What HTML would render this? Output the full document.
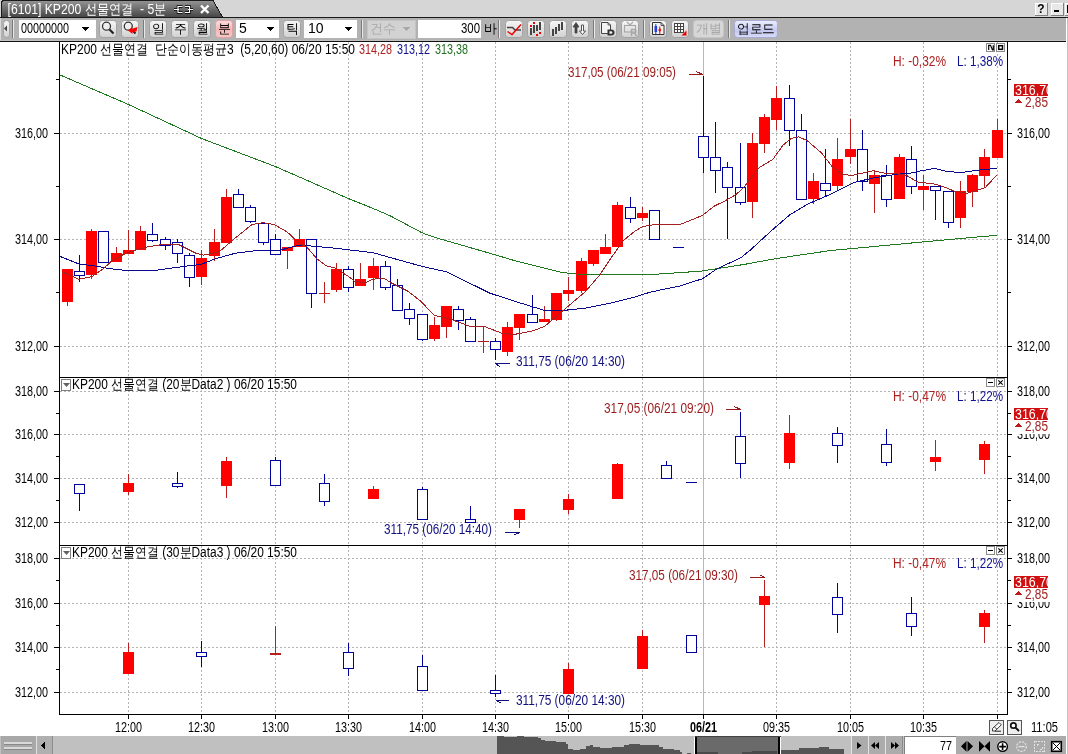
<!DOCTYPE html>
<html><head><meta charset="utf-8"><style>
html,body{margin:0;padding:0;width:1068px;height:754px;overflow:hidden;background:#fff;}
svg{display:block;font-family:"Liberation Sans",sans-serif;will-change:transform;}
</style></head><body>
<svg width="1068" height="754" viewBox="0 0 1068 754" shape-rendering="crispEdges" font-family="Liberation Sans, sans-serif">
<rect x="0" y="0" width="1068" height="754" fill="#fff"/>
<rect x="0" y="0" width="1068" height="17" fill="#d6d6d6"/>
<defs><linearGradient id="tab" x1="0" y1="0" x2="0" y2="1"><stop offset="0" stop-color="#959595"/><stop offset="0.5" stop-color="#6e6e6e"/><stop offset="1" stop-color="#474747"/></linearGradient><linearGradient id="btn" x1="0" y1="0" x2="0" y2="1"><stop offset="0" stop-color="#f6f6f6"/><stop offset="0.5" stop-color="#e4e4e4"/><stop offset="1" stop-color="#d0d0d0"/></linearGradient><linearGradient id="pink" x1="0" y1="0" x2="0" y2="1"><stop offset="0" stop-color="#ffdede"/><stop offset="0.5" stop-color="#f8b8b8"/><stop offset="1" stop-color="#f4c8c8"/></linearGradient><linearGradient id="blu" x1="0" y1="0" x2="0" y2="1"><stop offset="0" stop-color="#eef0ff"/><stop offset="0.6" stop-color="#c4c8f0"/><stop offset="1" stop-color="#d8dcf8"/></linearGradient></defs>
<path d="M1.5,17 L1.5,3 Q1.5,0.5 4,0.5 L213,0.5 L222.5,17 Z" fill="url(#tab)" stroke="#1a1a1a" stroke-width="1"/>
<text x="7.5" y="14" font-size="14" fill="#fff" text-anchor="start" font-weight="normal" textLength="159" lengthAdjust="spacingAndGlyphs" >[6101] KP200 선물연결 &#160;- 5분</text>
<g fill="none" shape-rendering="auto"><path d="M174,9.5 L179,9.5 M182.5,6.5 L178,6.5 L178,12.5 L182.5,12.5 M193,9.5 L188,9.5 M185,6.5 L189.5,6.5 L189.5,12.5 L185,12.5" stroke="#000" stroke-width="2.6"/><path d="M174,9.5 L179,9.5 M182.5,6.5 L178,6.5 L178,12.5 L182.5,12.5 M193,9.5 L188,9.5 M185,6.5 L189.5,6.5 L189.5,12.5 L185,12.5" stroke="#fff" stroke-width="1.2"/></g>
<g stroke="#fff" stroke-width="2.4" shape-rendering="auto"><path d="M201,5.5 L208.5,13 M208.5,5.5 L201,13"/></g>
<rect x="1035" y="3" width="12" height="12" fill="#e8e8e8" stroke="#808080"/>
<path d="M1035,15 L1035,3 L1047,3" fill="none" stroke="#fff"/>
<rect x="1051" y="3" width="12" height="12" fill="#e8e8e8" stroke="#808080"/>
<path d="M1051,15 L1051,3 L1063,3" fill="none" stroke="#fff"/>
<rect x="1065" y="3" width="12" height="12" fill="#e8e8e8" stroke="#808080"/>
<path d="M1065,15 L1065,3 L1077,3" fill="none" stroke="#fff"/>
<text x="1041" y="13" font-size="12" fill="#000" text-anchor="middle" font-weight="bold" >?</text>
<rect x="1054" y="10" width="5" height="2" fill="#000"/>
<rect x="1067" y="5" width="1" height="8" fill="#000"/>
<rect x="0" y="17" width="1068" height="1" fill="#1a1a1a"/>
<rect x="0" y="18" width="1066" height="23" fill="#b2b2b2"/>
<rect x="0" y="41" width="1066" height="1" fill="#111"/>
<rect x="0" y="18" width="1" height="23" fill="#d8d8d8"/><rect x="0" y="40" width="1066" height="1" fill="#c2c2c2"/>
<rect x="3.5" y="20.5" width="6" height="17" rx="3" fill="url(#btn)" stroke="#a2a2a2" shape-rendering="auto"/>
<path d="M4,28.5 L7,25.5 L7,31.5 Z" fill="#444" shape-rendering="auto"/>
<rect x="12" y="20" width="1" height="18" fill="#7a7a7a"/><rect x="13" y="20" width="1" height="18" fill="#e8e8e8"/>
<rect x="19" y="20" width="77" height="18" fill="#fff"/>
<text x="21" y="32.5" font-size="14" fill="#000" text-anchor="start" font-weight="normal" textLength="48" lengthAdjust="spacingAndGlyphs" >00000000</text>
<path d="M82,27 L89,27 L85.5,31 Z" fill="#000"/>
<rect x="99.5" y="20.5" width="17" height="17" rx="3" fill="url(#btn)" stroke="#a2a2a2" shape-rendering="auto"/>
<rect x="121.5" y="20.5" width="17" height="17" rx="3" fill="url(#btn)" stroke="#a2a2a2" shape-rendering="auto"/>
<g shape-rendering="auto"><circle cx="106.5" cy="26.2" r="4" fill="#eee" stroke="#333" stroke-width="1.3"/><path d="M109.5,29.5 L113.5,33.5" stroke="#222" stroke-width="2.2"/></g>
<g shape-rendering="auto"><circle cx="128.3" cy="26.2" r="4" fill="#eee" stroke="#333" stroke-width="1.3"/><path d="M131,29 L135.5,33.5" stroke="#222" stroke-width="2"/><path d="M128,30.5 L132,27 L132,28.8 L137.5,27 L136.5,31.5 L132.5,32 L132.5,34 Z" fill="#f00"/></g>
<rect x="143" y="20" width="1" height="18" fill="#7a7a7a"/><rect x="144" y="20" width="1" height="18" fill="#e8e8e8"/>
<rect x="149.5" y="20.5" width="17" height="17" rx="3" fill="url(#btn)" stroke="#a0a0a0" shape-rendering="auto"/>
<text x="158.0" y="33" font-size="13" fill="#000" text-anchor="middle" font-weight="normal" >일</text>
<rect x="171.5" y="20.5" width="17" height="17" rx="3" fill="url(#btn)" stroke="#a0a0a0" shape-rendering="auto"/>
<text x="180.0" y="33" font-size="13" fill="#000" text-anchor="middle" font-weight="normal" >주</text>
<rect x="193.5" y="20.5" width="17" height="17" rx="3" fill="url(#btn)" stroke="#a0a0a0" shape-rendering="auto"/>
<text x="202.0" y="33" font-size="13" fill="#000" text-anchor="middle" font-weight="normal" >월</text>
<rect x="215.5" y="20.5" width="17" height="17" rx="3" fill="url(#pink)" stroke="#e0a0a0" shape-rendering="auto"/>
<text x="224.0" y="33" font-size="13" fill="#000" text-anchor="middle" font-weight="normal" >분</text>
<rect x="236" y="20" width="43" height="18" fill="#fff"/>
<text x="239" y="32.5" font-size="14" fill="#000" text-anchor="start" font-weight="normal" >5</text>
<path d="M267,27 L274,27 L270.5,31 Z" fill="#000"/>
<rect x="283.5" y="20.5" width="17" height="17" rx="3" fill="url(#btn)" stroke="#a2a2a2" shape-rendering="auto"/>
<text x="292" y="33" font-size="13" fill="#000" text-anchor="middle" font-weight="normal" >틱</text>
<rect x="304" y="20" width="53" height="18" fill="#fff"/>
<text x="308" y="32.5" font-size="14" fill="#000" text-anchor="start" font-weight="normal" >10</text>
<path d="M345,27 L352,27 L348.5,31 Z" fill="#000"/>
<rect x="361" y="20" width="1" height="18" fill="#7a7a7a"/><rect x="362" y="20" width="1" height="18" fill="#e8e8e8"/>
<rect x="367" y="20" width="48" height="18" fill="#d2d2d2" stroke="#c4c4c4"/>
<text x="370" y="33" font-size="13" fill="#a8a8a8" text-anchor="start" font-weight="normal" >건수</text>
<path d="M403,27 L410,27 L406.5,31 Z" fill="#a8a8a8"/>
<rect x="418" y="20" width="63" height="18" fill="#fff"/>
<text x="480" y="32.5" font-size="14" fill="#000" text-anchor="end" font-weight="normal" textLength="19" lengthAdjust="spacingAndGlyphs" >300</text>
<text x="484" y="33" font-size="13" fill="#000" text-anchor="start" font-weight="normal" >바</text>
<rect x="498" y="20" width="1" height="18" fill="#7a7a7a"/><rect x="499" y="20" width="1" height="18" fill="#e8e8e8"/>
<rect x="505.5" y="20.5" width="17" height="17" rx="3" fill="url(#btn)" stroke="#a2a2a2" shape-rendering="auto"/>
<rect x="527.5" y="20.5" width="17" height="17" rx="3" fill="url(#btn)" stroke="#a2a2a2" shape-rendering="auto"/>
<rect x="549.5" y="20.5" width="17" height="17" rx="3" fill="url(#btn)" stroke="#a2a2a2" shape-rendering="auto"/>
<rect x="571.5" y="20.5" width="17" height="17" rx="3" fill="url(#btn)" stroke="#a2a2a2" shape-rendering="auto"/>
<rect x="599.5" y="20.5" width="17" height="17" rx="3" fill="url(#btn)" stroke="#a2a2a2" shape-rendering="auto"/>
<rect x="621.5" y="20.5" width="17" height="17" rx="3" fill="url(#btn)" stroke="#a2a2a2" shape-rendering="auto"/>
<rect x="649.5" y="20.5" width="17" height="17" rx="3" fill="url(#btn)" stroke="#a2a2a2" shape-rendering="auto"/>
<rect x="671.5" y="20.5" width="17" height="17" rx="3" fill="url(#btn)" stroke="#a2a2a2" shape-rendering="auto"/>
<g shape-rendering="auto" fill="none"><path d="M507,27.5 L512.5,27.5 L515,30 L521,30" stroke="#444" stroke-width="1.6"/><path d="M507.5,31.5 L512,34.5 L521,24.5" stroke="#e00" stroke-width="1.4"/></g>
<g fill="#444"><rect x="530" y="28" width="2" height="7"/><rect x="533" y="25" width="2" height="8"/><rect x="536" y="25" width="2" height="6"/><rect x="539" y="22" width="2" height="8"/></g><g fill="#e00"><rect x="530" y="24.5" width="2" height="2"/><rect x="533" y="22" width="2" height="2"/><rect x="536" y="33.5" width="2" height="2"/><rect x="539" y="31.5" width="2" height="2"/></g>
<g fill="#444"><rect x="552" y="28.5" width="2" height="7"/><rect x="555" y="26.5" width="2" height="7"/><rect x="558" y="24" width="2" height="7"/><rect x="561" y="22" width="2" height="8"/></g>
<g shape-rendering="auto"><path d="M575,33 L575,27 L573,27 L576,22.5 L579,27 L577,27 L577,33 Z" fill="#444" stroke="#444" stroke-width="0.8"/><path d="M581.5,25 L583.5,25 L583.5,31 L585.5,31 L582.5,34.5 L579.5,31 L581.5,31 Z" fill="#fff" stroke="#444" stroke-width="0.9"/></g>
<rect x="593" y="20" width="1" height="18" fill="#7a7a7a"/><rect x="594" y="20" width="1" height="18" fill="#e8e8e8"/>
<g shape-rendering="auto"><path d="M601.5,22.5 L608,22.5 L610.5,25 L610.5,33.5 L601.5,33.5 Z" fill="#f4f4f4" stroke="#444" stroke-width="1"/><path d="M608,22.5 L608,25 L610.5,25" fill="none" stroke="#444" stroke-width="0.8"/><path d="M607.5,29.5 L611,29.5 Q614.5,29.5 614.5,32.5 Q614.5,35.5 611,35.5 L607.5,35.5 Z" fill="#333"/><path d="M609.5,31.3 L610.8,31.3 Q612.3,31.3 612.3,32.5 Q612.3,33.7 610.8,33.7 L609.5,33.7 Z" fill="#f4f4f4"/></g>
<g shape-rendering="auto" fill="none" stroke="#a6a6a6" stroke-width="1.1"><path d="M627,22 L630,25 L633,22"/><rect x="624.5" y="25.5" width="11" height="6.5"/><path d="M631.5,36 L631.5,29.5 L634.5,29.5 Q636,29.5 636,31.2 Q636,33 634.5,33 L632,33 M634.5,33 L636.5,36" stroke-width="1.4"/></g>
<rect x="643" y="20" width="1" height="18" fill="#7a7a7a"/><rect x="644" y="20" width="1" height="18" fill="#e8e8e8"/>
<g shape-rendering="auto"><path d="M652.5,22.5 L661,22.5 L664,25.5 L664,34.5 L652.5,34.5 Z" fill="#f4f4f4" stroke="#333" stroke-width="1"/><path d="M661,22.5 L661,25.5 L664,25.5" fill="none" stroke="#333" stroke-width="0.8"/><path d="M655.8,24 L655.8,34" stroke="#2040e0" stroke-width="1"/><rect x="654.5" y="26" width="2.6" height="6" fill="#2040e0"/><path d="M659.8,26.5 L659.8,34" stroke="#e00" stroke-width="1"/><path d="M659.8,28.5 L661,30 L659.8,31.5 L658.6,30 Z" fill="#e00" stroke="#e00" stroke-width="0.6"/></g>
<g fill="#444"><rect x="674" y="23" width="10" height="10"/></g><g fill="#fff"><rect x="675" y="24" width="2" height="2"/><rect x="678" y="24" width="2" height="2"/><rect x="681" y="24" width="2" height="2"/><rect x="675" y="27" width="2" height="2"/><rect x="678" y="27" width="2" height="2"/><rect x="681" y="27" width="2" height="2"/><rect x="675" y="30" width="2" height="2"/><rect x="678" y="30" width="2" height="2"/><rect x="681" y="30" width="2" height="2"/></g><path d="M681.5,35.5 L686.5,35.5 L686.5,30.5 Z" fill="#e00" shape-rendering="auto"/>
<rect x="693.5" y="20.5" width="30" height="17" rx="3" fill="#d6d6d6" stroke="#c6c6c6" shape-rendering="auto"/>
<text x="708.5" y="33" font-size="13" fill="#a8a8a8" text-anchor="middle" font-weight="normal" >개별</text>
<rect x="728" y="20" width="1" height="18" fill="#7a7a7a"/><rect x="729" y="20" width="1" height="18" fill="#e8e8e8"/>
<rect x="734.5" y="20.5" width="43" height="17" rx="3" fill="url(#blu)" stroke="#a8acd0" shape-rendering="auto"/>
<text x="756" y="33" font-size="13" fill="#000" text-anchor="middle" font-weight="normal" textLength="38" lengthAdjust="spacingAndGlyphs" >업로드</text>
<line x1="128.5" y1="42" x2="128.5" y2="377" stroke="#b4b4b4" stroke-dasharray="2,2"/>
<line x1="201.5" y1="42" x2="201.5" y2="377" stroke="#b4b4b4" stroke-dasharray="2,2"/>
<line x1="275.5" y1="42" x2="275.5" y2="377" stroke="#b4b4b4" stroke-dasharray="2,2"/>
<line x1="348.5" y1="42" x2="348.5" y2="377" stroke="#b4b4b4" stroke-dasharray="2,2"/>
<line x1="422.5" y1="42" x2="422.5" y2="377" stroke="#b4b4b4" stroke-dasharray="2,2"/>
<line x1="495.5" y1="42" x2="495.5" y2="377" stroke="#b4b4b4" stroke-dasharray="2,2"/>
<line x1="568.5" y1="42" x2="568.5" y2="377" stroke="#b4b4b4" stroke-dasharray="2,2"/>
<line x1="642.5" y1="42" x2="642.5" y2="377" stroke="#b4b4b4" stroke-dasharray="2,2"/>
<line x1="776.5" y1="42" x2="776.5" y2="377" stroke="#b4b4b4" stroke-dasharray="2,2"/>
<line x1="850.5" y1="42" x2="850.5" y2="377" stroke="#b4b4b4" stroke-dasharray="2,2"/>
<line x1="923.5" y1="42" x2="923.5" y2="377" stroke="#b4b4b4" stroke-dasharray="2,2"/>
<line x1="997.5" y1="42" x2="997.5" y2="377" stroke="#b4b4b4" stroke-dasharray="2,2"/>
<line x1="703.5" y1="42" x2="703.5" y2="377" stroke="#b8b8b8"/>
<line x1="60" y1="133.5" x2="1007" y2="133.5" stroke="#b4b4b4" stroke-dasharray="2,2"/>
<line x1="60" y1="239.5" x2="1007" y2="239.5" stroke="#b4b4b4" stroke-dasharray="2,2"/>
<line x1="60" y1="346.5" x2="1007" y2="346.5" stroke="#b4b4b4" stroke-dasharray="2,2"/>
<line x1="128.5" y1="378" x2="128.5" y2="545" stroke="#b4b4b4" stroke-dasharray="2,2"/>
<line x1="201.5" y1="378" x2="201.5" y2="545" stroke="#b4b4b4" stroke-dasharray="2,2"/>
<line x1="275.5" y1="378" x2="275.5" y2="545" stroke="#b4b4b4" stroke-dasharray="2,2"/>
<line x1="348.5" y1="378" x2="348.5" y2="545" stroke="#b4b4b4" stroke-dasharray="2,2"/>
<line x1="422.5" y1="378" x2="422.5" y2="545" stroke="#b4b4b4" stroke-dasharray="2,2"/>
<line x1="495.5" y1="378" x2="495.5" y2="545" stroke="#b4b4b4" stroke-dasharray="2,2"/>
<line x1="568.5" y1="378" x2="568.5" y2="545" stroke="#b4b4b4" stroke-dasharray="2,2"/>
<line x1="642.5" y1="378" x2="642.5" y2="545" stroke="#b4b4b4" stroke-dasharray="2,2"/>
<line x1="776.5" y1="378" x2="776.5" y2="545" stroke="#b4b4b4" stroke-dasharray="2,2"/>
<line x1="850.5" y1="378" x2="850.5" y2="545" stroke="#b4b4b4" stroke-dasharray="2,2"/>
<line x1="923.5" y1="378" x2="923.5" y2="545" stroke="#b4b4b4" stroke-dasharray="2,2"/>
<line x1="997.5" y1="378" x2="997.5" y2="545" stroke="#b4b4b4" stroke-dasharray="2,2"/>
<line x1="703.5" y1="378" x2="703.5" y2="545" stroke="#b8b8b8"/>
<line x1="60" y1="391.5" x2="1007" y2="391.5" stroke="#b4b4b4" stroke-dasharray="2,2"/>
<line x1="60" y1="434.5" x2="1007" y2="434.5" stroke="#b4b4b4" stroke-dasharray="2,2"/>
<line x1="60" y1="478.5" x2="1007" y2="478.5" stroke="#b4b4b4" stroke-dasharray="2,2"/>
<line x1="60" y1="522.5" x2="1007" y2="522.5" stroke="#b4b4b4" stroke-dasharray="2,2"/>
<line x1="128.5" y1="546" x2="128.5" y2="714" stroke="#b4b4b4" stroke-dasharray="2,2"/>
<line x1="201.5" y1="546" x2="201.5" y2="714" stroke="#b4b4b4" stroke-dasharray="2,2"/>
<line x1="275.5" y1="546" x2="275.5" y2="714" stroke="#b4b4b4" stroke-dasharray="2,2"/>
<line x1="348.5" y1="546" x2="348.5" y2="714" stroke="#b4b4b4" stroke-dasharray="2,2"/>
<line x1="422.5" y1="546" x2="422.5" y2="714" stroke="#b4b4b4" stroke-dasharray="2,2"/>
<line x1="495.5" y1="546" x2="495.5" y2="714" stroke="#b4b4b4" stroke-dasharray="2,2"/>
<line x1="568.5" y1="546" x2="568.5" y2="714" stroke="#b4b4b4" stroke-dasharray="2,2"/>
<line x1="642.5" y1="546" x2="642.5" y2="714" stroke="#b4b4b4" stroke-dasharray="2,2"/>
<line x1="776.5" y1="546" x2="776.5" y2="714" stroke="#b4b4b4" stroke-dasharray="2,2"/>
<line x1="850.5" y1="546" x2="850.5" y2="714" stroke="#b4b4b4" stroke-dasharray="2,2"/>
<line x1="923.5" y1="546" x2="923.5" y2="714" stroke="#b4b4b4" stroke-dasharray="2,2"/>
<line x1="997.5" y1="546" x2="997.5" y2="714" stroke="#b4b4b4" stroke-dasharray="2,2"/>
<line x1="703.5" y1="546" x2="703.5" y2="714" stroke="#b8b8b8"/>
<line x1="60" y1="558.5" x2="1007" y2="558.5" stroke="#b4b4b4" stroke-dasharray="2,2"/>
<line x1="60" y1="603.5" x2="1007" y2="603.5" stroke="#b4b4b4" stroke-dasharray="2,2"/>
<line x1="60" y1="647.5" x2="1007" y2="647.5" stroke="#b4b4b4" stroke-dasharray="2,2"/>
<line x1="60" y1="692.5" x2="1007" y2="692.5" stroke="#b4b4b4" stroke-dasharray="2,2"/>
<rect x="67" y="302" width="1" height="4" fill="#b81e1e"/>
<rect x="62" y="269" width="11" height="33" fill="#ff0000"/>
<rect x="79" y="255" width="1" height="16" fill="#00009c"/>
<rect x="79" y="275" width="1" height="7" fill="#00009c"/>
<rect x="74.5" y="271.5" width="10" height="4" fill="#fff" stroke="#00009c" stroke-width="1"/>
<rect x="91" y="229" width="1" height="2" fill="#b81e1e"/>
<rect x="91" y="275" width="1" height="4" fill="#b81e1e"/>
<rect x="86" y="231" width="11" height="44" fill="#ff0000"/>
<rect x="103" y="262" width="1" height="1" fill="#00009c"/>
<rect x="98.5" y="231.5" width="10" height="31" fill="#fff" stroke="#00009c" stroke-width="1"/>
<rect x="116" y="247" width="1" height="6" fill="#b81e1e"/>
<rect x="111" y="253" width="11" height="9" fill="#ff0000"/>
<rect x="128" y="230" width="1" height="20" fill="#b81e1e"/>
<rect x="123" y="250" width="11" height="4" fill="#ff0000"/>
<rect x="140" y="226" width="1" height="5" fill="#b81e1e"/>
<rect x="135" y="231" width="11" height="19" fill="#ff0000"/>
<rect x="152" y="223" width="1" height="11" fill="#00009c"/>
<rect x="152" y="240" width="1" height="2" fill="#00009c"/>
<rect x="147.5" y="234.5" width="10" height="6" fill="#fff" stroke="#00009c" stroke-width="1"/>
<rect x="165" y="237" width="1" height="2" fill="#00009c"/>
<rect x="165" y="245" width="1" height="5" fill="#00009c"/>
<rect x="160.5" y="239.5" width="10" height="6" fill="#fff" stroke="#00009c" stroke-width="1"/>
<rect x="177" y="239" width="1" height="3" fill="#00009c"/>
<rect x="177" y="253" width="1" height="10" fill="#00009c"/>
<rect x="172.5" y="242.5" width="10" height="11" fill="#fff" stroke="#00009c" stroke-width="1"/>
<rect x="189" y="253" width="1" height="2" fill="#00009c"/>
<rect x="189" y="277" width="1" height="10" fill="#00009c"/>
<rect x="184.5" y="255.5" width="10" height="22" fill="#fff" stroke="#00009c" stroke-width="1"/>
<rect x="201" y="250" width="1" height="8" fill="#b81e1e"/>
<rect x="201" y="277" width="1" height="8" fill="#b81e1e"/>
<rect x="196" y="258" width="11" height="19" fill="#ff0000"/>
<rect x="214" y="229" width="1" height="13" fill="#b81e1e"/>
<rect x="214" y="256" width="1" height="5" fill="#b81e1e"/>
<rect x="209" y="242" width="11" height="14" fill="#ff0000"/>
<rect x="226" y="189" width="1" height="8" fill="#b81e1e"/>
<rect x="221" y="197" width="11" height="46" fill="#ff0000"/>
<rect x="238" y="189" width="1" height="5" fill="#00009c"/>
<rect x="233.5" y="194.5" width="10" height="13" fill="#fff" stroke="#00009c" stroke-width="1"/>
<rect x="250" y="205" width="1" height="2" fill="#00009c"/>
<rect x="250" y="221" width="1" height="2" fill="#00009c"/>
<rect x="245.5" y="207.5" width="10" height="14" fill="#fff" stroke="#00009c" stroke-width="1"/>
<rect x="263" y="242" width="1" height="3" fill="#00009c"/>
<rect x="258.5" y="223.5" width="10" height="19" fill="#fff" stroke="#00009c" stroke-width="1"/>
<rect x="275" y="234" width="1" height="5" fill="#00009c"/>
<rect x="275" y="254" width="1" height="1" fill="#00009c"/>
<rect x="270.5" y="239.5" width="10" height="15" fill="#fff" stroke="#00009c" stroke-width="1"/>
<rect x="287" y="251" width="1" height="18" fill="#b81e1e"/>
<rect x="282" y="247" width="11" height="4" fill="#ff0000"/>
<rect x="299" y="229" width="1" height="10" fill="#b81e1e"/>
<rect x="294" y="239" width="11" height="8" fill="#ff0000"/>
<rect x="311" y="293" width="1" height="15" fill="#00009c"/>
<rect x="306.5" y="239.5" width="10" height="54" fill="#fff" stroke="#00009c" stroke-width="1"/>
<rect x="324" y="282" width="1" height="11" fill="#b81e1e"/>
<rect x="324" y="294" width="1" height="9" fill="#b81e1e"/>
<rect x="319" y="293" width="11" height="1" fill="#b81e1e"/>
<rect x="336" y="263" width="1" height="6" fill="#b81e1e"/>
<rect x="336" y="290" width="1" height="2" fill="#b81e1e"/>
<rect x="331" y="269" width="11" height="21" fill="#ff0000"/>
<rect x="348" y="266" width="1" height="3" fill="#00009c"/>
<rect x="348" y="287" width="1" height="5" fill="#00009c"/>
<rect x="343.5" y="269.5" width="10" height="18" fill="#fff" stroke="#00009c" stroke-width="1"/>
<rect x="360" y="263" width="1" height="16" fill="#b81e1e"/>
<rect x="355" y="279" width="11" height="7" fill="#ff0000"/>
<rect x="373" y="258" width="1" height="8" fill="#b81e1e"/>
<rect x="373" y="278" width="1" height="12" fill="#b81e1e"/>
<rect x="368" y="266" width="11" height="12" fill="#ff0000"/>
<rect x="385" y="261" width="1" height="5" fill="#00009c"/>
<rect x="385" y="287" width="1" height="3" fill="#00009c"/>
<rect x="380.5" y="266.5" width="10" height="21" fill="#fff" stroke="#00009c" stroke-width="1"/>
<rect x="397" y="279" width="1" height="6" fill="#00009c"/>
<rect x="397" y="310" width="1" height="1" fill="#00009c"/>
<rect x="392.5" y="285.5" width="10" height="25" fill="#fff" stroke="#00009c" stroke-width="1"/>
<rect x="409" y="303" width="1" height="6" fill="#00009c"/>
<rect x="409" y="318" width="1" height="7" fill="#00009c"/>
<rect x="404.5" y="309.5" width="10" height="9" fill="#fff" stroke="#00009c" stroke-width="1"/>
<rect x="422" y="339" width="1" height="2" fill="#00009c"/>
<rect x="417.5" y="314.5" width="10" height="25" fill="#fff" stroke="#00009c" stroke-width="1"/>
<rect x="434" y="317" width="1" height="8" fill="#b81e1e"/>
<rect x="434" y="339" width="1" height="2" fill="#b81e1e"/>
<rect x="429" y="325" width="11" height="14" fill="#ff0000"/>
<rect x="446" y="327" width="1" height="11" fill="#b81e1e"/>
<rect x="441" y="306" width="11" height="21" fill="#ff0000"/>
<rect x="458" y="306" width="1" height="3" fill="#00009c"/>
<rect x="458" y="320" width="1" height="10" fill="#00009c"/>
<rect x="453.5" y="309.5" width="10" height="11" fill="#fff" stroke="#00009c" stroke-width="1"/>
<rect x="470" y="317" width="1" height="2" fill="#00009c"/>
<rect x="465.5" y="319.5" width="10" height="22" fill="#fff" stroke="#00009c" stroke-width="1"/>
<rect x="483" y="327" width="1" height="14" fill="#b81e1e"/>
<rect x="483" y="342" width="1" height="11" fill="#b81e1e"/>
<rect x="478" y="341" width="11" height="1" fill="#b81e1e"/>
<rect x="495" y="338" width="1" height="3" fill="#00009c"/>
<rect x="495" y="349" width="1" height="11" fill="#00009c"/>
<rect x="490.5" y="341.5" width="10" height="8" fill="#fff" stroke="#00009c" stroke-width="1"/>
<rect x="507" y="322" width="1" height="5" fill="#b81e1e"/>
<rect x="507" y="352" width="1" height="4" fill="#b81e1e"/>
<rect x="502" y="327" width="11" height="25" fill="#ff0000"/>
<rect x="519" y="328" width="1" height="12" fill="#b81e1e"/>
<rect x="514" y="314" width="11" height="14" fill="#ff0000"/>
<rect x="532" y="295" width="1" height="19" fill="#00009c"/>
<rect x="527.5" y="314.5" width="10" height="8" fill="#fff" stroke="#00009c" stroke-width="1"/>
<rect x="544" y="306" width="1" height="13" fill="#b81e1e"/>
<rect x="539" y="319" width="11" height="3" fill="#ff0000"/>
<rect x="556" y="320" width="1" height="1" fill="#b81e1e"/>
<rect x="551" y="293" width="11" height="27" fill="#ff0000"/>
<rect x="568" y="277" width="1" height="13" fill="#b81e1e"/>
<rect x="568" y="294" width="1" height="7" fill="#b81e1e"/>
<rect x="563" y="290" width="11" height="4" fill="#ff0000"/>
<rect x="581" y="258" width="1" height="3" fill="#b81e1e"/>
<rect x="581" y="291" width="1" height="2" fill="#b81e1e"/>
<rect x="576" y="261" width="11" height="30" fill="#ff0000"/>
<rect x="593" y="264" width="1" height="2" fill="#b81e1e"/>
<rect x="588" y="250" width="11" height="14" fill="#ff0000"/>
<rect x="605" y="234" width="1" height="13" fill="#b81e1e"/>
<rect x="600" y="247" width="11" height="7" fill="#ff0000"/>
<rect x="617" y="202" width="1" height="3" fill="#b81e1e"/>
<rect x="612" y="205" width="11" height="42" fill="#ff0000"/>
<rect x="630" y="197" width="1" height="10" fill="#00009c"/>
<rect x="630" y="218" width="1" height="5" fill="#00009c"/>
<rect x="625.5" y="207.5" width="10" height="11" fill="#fff" stroke="#00009c" stroke-width="1"/>
<rect x="642" y="207" width="1" height="6" fill="#b81e1e"/>
<rect x="642" y="218" width="1" height="3" fill="#b81e1e"/>
<rect x="637" y="213" width="11" height="5" fill="#ff0000"/>
<rect x="649.5" y="210.5" width="10" height="29" fill="#fff" stroke="#00009c" stroke-width="1"/>
<rect x="673" y="247" width="11" height="1" fill="#00009c"/>
<rect x="703" y="76" width="1" height="60" fill="#00009c"/>
<rect x="703" y="157" width="1" height="16" fill="#00009c"/>
<rect x="698.5" y="136.5" width="10" height="21" fill="#fff" stroke="#00009c" stroke-width="1"/>
<rect x="715" y="122" width="1" height="35" fill="#00009c"/>
<rect x="715" y="170" width="1" height="23" fill="#00009c"/>
<rect x="710.5" y="157.5" width="10" height="13" fill="#fff" stroke="#00009c" stroke-width="1"/>
<rect x="727" y="162" width="1" height="5" fill="#00009c"/>
<rect x="727" y="187" width="1" height="52" fill="#00009c"/>
<rect x="722.5" y="167.5" width="10" height="20" fill="#fff" stroke="#00009c" stroke-width="1"/>
<rect x="740" y="143" width="1" height="44" fill="#00009c"/>
<rect x="740" y="202" width="1" height="3" fill="#00009c"/>
<rect x="735.5" y="187.5" width="10" height="15" fill="#fff" stroke="#00009c" stroke-width="1"/>
<rect x="752" y="133" width="1" height="10" fill="#b81e1e"/>
<rect x="752" y="202" width="1" height="16" fill="#b81e1e"/>
<rect x="747" y="143" width="11" height="59" fill="#ff0000"/>
<rect x="764" y="114" width="1" height="3" fill="#b81e1e"/>
<rect x="764" y="144" width="1" height="9" fill="#b81e1e"/>
<rect x="759" y="117" width="11" height="27" fill="#ff0000"/>
<rect x="776" y="86" width="1" height="12" fill="#b81e1e"/>
<rect x="776" y="120" width="1" height="10" fill="#b81e1e"/>
<rect x="771" y="98" width="11" height="22" fill="#ff0000"/>
<rect x="789" y="85" width="1" height="13" fill="#00009c"/>
<rect x="789" y="130" width="1" height="16" fill="#00009c"/>
<rect x="784.5" y="98.5" width="10" height="32" fill="#fff" stroke="#00009c" stroke-width="1"/>
<rect x="801" y="114" width="1" height="16" fill="#00009c"/>
<rect x="796.5" y="130.5" width="10" height="69" fill="#fff" stroke="#00009c" stroke-width="1"/>
<rect x="813" y="173" width="1" height="8" fill="#b81e1e"/>
<rect x="813" y="199" width="1" height="5" fill="#b81e1e"/>
<rect x="808" y="181" width="11" height="18" fill="#ff0000"/>
<rect x="825" y="149" width="1" height="34" fill="#00009c"/>
<rect x="825" y="190" width="1" height="6" fill="#00009c"/>
<rect x="820.5" y="183.5" width="10" height="7" fill="#fff" stroke="#00009c" stroke-width="1"/>
<rect x="837" y="138" width="1" height="21" fill="#b81e1e"/>
<rect x="837" y="186" width="1" height="4" fill="#b81e1e"/>
<rect x="832" y="159" width="11" height="27" fill="#ff0000"/>
<rect x="850" y="119" width="1" height="30" fill="#b81e1e"/>
<rect x="850" y="157" width="1" height="7" fill="#b81e1e"/>
<rect x="845" y="149" width="11" height="8" fill="#ff0000"/>
<rect x="862" y="130" width="1" height="19" fill="#00009c"/>
<rect x="862" y="181" width="1" height="10" fill="#00009c"/>
<rect x="857.5" y="149.5" width="10" height="32" fill="#fff" stroke="#00009c" stroke-width="1"/>
<rect x="874" y="170" width="1" height="5" fill="#b81e1e"/>
<rect x="874" y="184" width="1" height="29" fill="#b81e1e"/>
<rect x="869" y="175" width="11" height="9" fill="#ff0000"/>
<rect x="886" y="165" width="1" height="10" fill="#00009c"/>
<rect x="886" y="199" width="1" height="8" fill="#00009c"/>
<rect x="881.5" y="175.5" width="10" height="24" fill="#fff" stroke="#00009c" stroke-width="1"/>
<rect x="899" y="154" width="1" height="3" fill="#b81e1e"/>
<rect x="894" y="157" width="11" height="42" fill="#ff0000"/>
<rect x="911" y="146" width="1" height="13" fill="#00009c"/>
<rect x="911" y="186" width="1" height="8" fill="#00009c"/>
<rect x="906.5" y="159.5" width="10" height="27" fill="#fff" stroke="#00009c" stroke-width="1"/>
<rect x="923" y="175" width="1" height="11" fill="#b81e1e"/>
<rect x="923" y="190" width="1" height="20" fill="#b81e1e"/>
<rect x="918" y="186" width="11" height="4" fill="#ff0000"/>
<rect x="935" y="190" width="1" height="30" fill="#00009c"/>
<rect x="930.5" y="186.5" width="10" height="4" fill="#fff" stroke="#00009c" stroke-width="1"/>
<rect x="948" y="222" width="1" height="6" fill="#00009c"/>
<rect x="943.5" y="191.5" width="10" height="31" fill="#fff" stroke="#00009c" stroke-width="1"/>
<rect x="960" y="181" width="1" height="10" fill="#b81e1e"/>
<rect x="960" y="218" width="1" height="10" fill="#b81e1e"/>
<rect x="955" y="191" width="11" height="27" fill="#ff0000"/>
<rect x="972" y="174" width="1" height="1" fill="#b81e1e"/>
<rect x="972" y="192" width="1" height="15" fill="#b81e1e"/>
<rect x="967" y="175" width="11" height="17" fill="#ff0000"/>
<rect x="984" y="149" width="1" height="8" fill="#b81e1e"/>
<rect x="984" y="176" width="1" height="11" fill="#b81e1e"/>
<rect x="979" y="157" width="11" height="19" fill="#ff0000"/>
<rect x="997" y="119" width="1" height="11" fill="#b81e1e"/>
<rect x="992" y="130" width="11" height="28" fill="#ff0000"/>
<rect x="79" y="493" width="1" height="18" fill="#00009c"/>
<rect x="74.5" y="484.5" width="10" height="9" fill="#fff" stroke="#00009c" stroke-width="1"/>
<rect x="128" y="474" width="1" height="9" fill="#b81e1e"/>
<rect x="128" y="492" width="1" height="3" fill="#b81e1e"/>
<rect x="123" y="483" width="11" height="9" fill="#ff0000"/>
<rect x="177" y="472" width="1" height="11" fill="#00009c"/>
<rect x="177" y="486" width="1" height="2" fill="#00009c"/>
<rect x="172.5" y="483.5" width="10" height="3" fill="#fff" stroke="#00009c" stroke-width="1"/>
<rect x="226" y="457" width="1" height="4" fill="#b81e1e"/>
<rect x="226" y="486" width="1" height="12" fill="#b81e1e"/>
<rect x="221" y="461" width="11" height="25" fill="#ff0000"/>
<rect x="275" y="457" width="1" height="3" fill="#00009c"/>
<rect x="270.5" y="460.5" width="10" height="25" fill="#fff" stroke="#00009c" stroke-width="1"/>
<rect x="324" y="474" width="1" height="9" fill="#00009c"/>
<rect x="324" y="501" width="1" height="5" fill="#00009c"/>
<rect x="319.5" y="483.5" width="10" height="18" fill="#fff" stroke="#00009c" stroke-width="1"/>
<rect x="373" y="486" width="1" height="3" fill="#b81e1e"/>
<rect x="368" y="489" width="11" height="10" fill="#ff0000"/>
<rect x="422" y="487" width="1" height="2" fill="#00009c"/>
<rect x="417.5" y="489.5" width="10" height="30" fill="#fff" stroke="#00009c" stroke-width="1"/>
<rect x="470" y="506" width="1" height="13" fill="#00009c"/>
<rect x="465.5" y="519.5" width="10" height="3" fill="#fff" stroke="#00009c" stroke-width="1"/>
<rect x="519" y="520" width="1" height="8" fill="#b81e1e"/>
<rect x="514" y="509" width="11" height="11" fill="#ff0000"/>
<rect x="568" y="494" width="1" height="5" fill="#b81e1e"/>
<rect x="568" y="510" width="1" height="4" fill="#b81e1e"/>
<rect x="563" y="499" width="11" height="11" fill="#ff0000"/>
<rect x="617" y="463" width="1" height="1" fill="#b81e1e"/>
<rect x="612" y="464" width="11" height="35" fill="#ff0000"/>
<rect x="666" y="461" width="1" height="4" fill="#00009c"/>
<rect x="661.5" y="465.5" width="10" height="13" fill="#fff" stroke="#00009c" stroke-width="1"/>
<rect x="686" y="482" width="11" height="1" fill="#00009c"/>
<rect x="740" y="412" width="1" height="24" fill="#00009c"/>
<rect x="740" y="463" width="1" height="15" fill="#00009c"/>
<rect x="735.5" y="436.5" width="10" height="27" fill="#fff" stroke="#00009c" stroke-width="1"/>
<rect x="789" y="415" width="1" height="18" fill="#b81e1e"/>
<rect x="789" y="463" width="1" height="6" fill="#b81e1e"/>
<rect x="784" y="433" width="11" height="30" fill="#ff0000"/>
<rect x="837" y="427" width="1" height="6" fill="#00009c"/>
<rect x="837" y="445" width="1" height="18" fill="#00009c"/>
<rect x="832.5" y="433.5" width="10" height="12" fill="#fff" stroke="#00009c" stroke-width="1"/>
<rect x="886" y="429" width="1" height="15" fill="#00009c"/>
<rect x="886" y="462" width="1" height="4" fill="#00009c"/>
<rect x="881.5" y="444.5" width="10" height="18" fill="#fff" stroke="#00009c" stroke-width="1"/>
<rect x="935" y="440" width="1" height="17" fill="#b81e1e"/>
<rect x="935" y="462" width="1" height="9" fill="#b81e1e"/>
<rect x="930" y="457" width="11" height="5" fill="#ff0000"/>
<rect x="984" y="441" width="1" height="3" fill="#b81e1e"/>
<rect x="984" y="460" width="1" height="14" fill="#b81e1e"/>
<rect x="979" y="444" width="11" height="16" fill="#ff0000"/>
<rect x="128" y="643" width="1" height="9" fill="#b81e1e"/>
<rect x="123" y="652" width="11" height="22" fill="#ff0000"/>
<rect x="201" y="641" width="1" height="11" fill="#00009c"/>
<rect x="201" y="656" width="1" height="11" fill="#00009c"/>
<rect x="196.5" y="652.5" width="10" height="4" fill="#fff" stroke="#00009c" stroke-width="1"/>
<rect x="275" y="626" width="1" height="27" fill="#b81e1e"/>
<rect x="270" y="653" width="11" height="2" fill="#b81e1e"/>
<rect x="348" y="643" width="1" height="9" fill="#00009c"/>
<rect x="348" y="668" width="1" height="8" fill="#00009c"/>
<rect x="343.5" y="652.5" width="10" height="16" fill="#fff" stroke="#00009c" stroke-width="1"/>
<rect x="422" y="655" width="1" height="11" fill="#00009c"/>
<rect x="417.5" y="666.5" width="10" height="24" fill="#fff" stroke="#00009c" stroke-width="1"/>
<rect x="495" y="675" width="1" height="15" fill="#00009c"/>
<rect x="495" y="693" width="1" height="4" fill="#00009c"/>
<rect x="490.5" y="690.5" width="10" height="3" fill="#fff" stroke="#00009c" stroke-width="1"/>
<rect x="568" y="663" width="1" height="6" fill="#b81e1e"/>
<rect x="563" y="669" width="11" height="25" fill="#ff0000"/>
<rect x="642" y="630" width="1" height="6" fill="#b81e1e"/>
<rect x="637" y="636" width="11" height="33" fill="#ff0000"/>
<rect x="686.5" y="635.5" width="10" height="17" fill="#fff" stroke="#00009c" stroke-width="1"/>
<rect x="764" y="580" width="1" height="16" fill="#b81e1e"/>
<rect x="764" y="605" width="1" height="42" fill="#b81e1e"/>
<rect x="759" y="596" width="11" height="9" fill="#ff0000"/>
<rect x="837" y="583" width="1" height="14" fill="#00009c"/>
<rect x="837" y="614" width="1" height="19" fill="#00009c"/>
<rect x="832.5" y="597.5" width="10" height="17" fill="#fff" stroke="#00009c" stroke-width="1"/>
<rect x="911" y="597" width="1" height="16" fill="#00009c"/>
<rect x="911" y="626" width="1" height="10" fill="#00009c"/>
<rect x="906.5" y="613.5" width="10" height="13" fill="#fff" stroke="#00009c" stroke-width="1"/>
<rect x="984" y="610" width="1" height="3" fill="#b81e1e"/>
<rect x="984" y="627" width="1" height="16" fill="#b81e1e"/>
<rect x="979" y="613" width="11" height="14" fill="#ff0000"/>
<polyline points="59.0,74.5 128.5,104.5 201.8,138.6 275.0,166.4 300.0,177.3 348.7,198.7 373.0,208.4 391.0,216.2 422.0,232.8 437.0,238.1 490.0,253.3 513.9,260.4 537.8,266.4 561.6,272.4 576.0,274.0 650.0,274.6 700.6,271.2 744.4,264.4 776.5,258.5 830.0,250.6 942.7,240.1 996.6,235.3" fill="none" stroke="#207820" stroke-width="1"/>
<polyline points="59.0,256.0 80.0,264.4 92.0,265.4 110.0,268.7 125.0,270.4 155.0,270.4 185.0,266.3 201.0,264.4 215.0,258.9 235.0,253.3 260.0,250.2 280.0,250.2 300.0,245.0 330.0,247.7 348.7,249.8 373.0,252.7 422.0,266.4 446.0,271.7 482.0,289.2 490.0,293.2 513.9,301.0 545.0,310.6 561.6,310.6 585.5,308.2 609.4,303.4 633.3,297.5 650.0,292.2 661.8,289.7 678.7,286.3 702.3,278.8 717.4,268.6 741.0,257.7 751.2,249.3 771.4,230.7 790.0,214.7 808.5,203.7 832.4,193.5 853.7,182.5 874.9,177.6 896.1,174.4 911.1,173.0 922.3,170.6 934.4,168.4 946.5,171.5 961.3,172.5 978.0,170.2 996.6,168.4" fill="none" stroke="#0a0a90" stroke-width="1"/>
<polyline points="62.0,271.9 79.0,279.3 92.0,276.5 103.0,269.0 111.0,261.7 122.0,255.2 129.0,252.4 137.0,249.6 148.0,246.8 166.0,244.0 177.5,244.0 185.0,247.7 196.0,253.3 203.5,255.2 219.5,251.5 232.5,240.3 252.0,224.5 263.0,222.7 274.2,224.5 287.2,232.0 300.2,244.0 306.7,246.8 317.0,258.9 326.2,265.7 335.5,268.2 348.5,276.5 354.3,281.0 365.4,282.9 372.8,279.2 384.0,278.3 391.4,282.9 408.1,291.3 421.1,301.5 434.1,315.4 441.5,317.2 452.7,320.0 469.4,326.1 483.3,326.1 502.0,333.3 513.9,334.5 533.0,330.9 545.0,326.1 561.6,311.8 585.5,291.5 599.9,274.8 611.8,256.9 623.7,240.1 635.7,230.6 642.5,226.7 652.0,225.0 680.0,224.5 702.3,215.5 714.0,206.3 725.9,200.4 736.0,194.5 744.4,186.9 747.8,181.8 759.4,167.5 772.7,159.5 783.3,144.9 791.2,138.3 798.5,136.9 807.0,140.5 821.8,153.2 832.4,167.0 843.0,174.4 851.5,175.5 872.8,170.8 885.5,173.4 894.0,173.4 906.7,175.5 917.3,181.9 934.3,184.0 942.7,186.4 953.9,191.0 966.9,193.3 978.0,190.1 985.5,187.3 996.6,175.3" fill="none" stroke="#a52020" stroke-width="1"/>
<rect x="59" y="42" width="1" height="673" fill="#000"/>
<rect x="1007" y="42" width="1" height="673" fill="#000"/>
<rect x="59" y="377" width="949" height="1" fill="#000"/>
<rect x="59" y="545" width="949" height="1" fill="#000"/>
<rect x="59" y="714" width="949" height="1" fill="#000"/>
<rect x="54" y="133" width="5" height="1" fill="#000"/>
<rect x="1008" y="133" width="4" height="1" fill="#000"/>
<text x="15" y="137.5" font-size="14" fill="#000" text-anchor="start" font-weight="normal" textLength="33" lengthAdjust="spacingAndGlyphs" >316,00</text>
<text x="1017" y="137.5" font-size="14" fill="#000" text-anchor="start" font-weight="normal" textLength="33" lengthAdjust="spacingAndGlyphs" >316,00</text>
<rect x="54" y="239" width="5" height="1" fill="#000"/>
<rect x="1008" y="239" width="4" height="1" fill="#000"/>
<text x="15" y="243.5" font-size="14" fill="#000" text-anchor="start" font-weight="normal" textLength="33" lengthAdjust="spacingAndGlyphs" >314,00</text>
<text x="1017" y="243.5" font-size="14" fill="#000" text-anchor="start" font-weight="normal" textLength="33" lengthAdjust="spacingAndGlyphs" >314,00</text>
<rect x="54" y="346" width="5" height="1" fill="#000"/>
<rect x="1008" y="346" width="4" height="1" fill="#000"/>
<text x="15" y="350.5" font-size="14" fill="#000" text-anchor="start" font-weight="normal" textLength="33" lengthAdjust="spacingAndGlyphs" >312,00</text>
<text x="1017" y="350.5" font-size="14" fill="#000" text-anchor="start" font-weight="normal" textLength="33" lengthAdjust="spacingAndGlyphs" >312,00</text>
<rect x="56" y="79" width="3" height="1" fill="#000"/>
<rect x="1008" y="79" width="3" height="1" fill="#000"/>
<rect x="56" y="186" width="3" height="1" fill="#000"/>
<rect x="1008" y="186" width="3" height="1" fill="#000"/>
<rect x="56" y="292" width="3" height="1" fill="#000"/>
<rect x="1008" y="292" width="3" height="1" fill="#000"/>
<rect x="54" y="391" width="5" height="1" fill="#000"/>
<rect x="1008" y="391" width="4" height="1" fill="#000"/>
<text x="15" y="395.5" font-size="14" fill="#000" text-anchor="start" font-weight="normal" textLength="33" lengthAdjust="spacingAndGlyphs" >318,00</text>
<text x="1017" y="395.5" font-size="14" fill="#000" text-anchor="start" font-weight="normal" textLength="33" lengthAdjust="spacingAndGlyphs" >318,00</text>
<rect x="54" y="434" width="5" height="1" fill="#000"/>
<rect x="1008" y="434" width="4" height="1" fill="#000"/>
<text x="15" y="438.5" font-size="14" fill="#000" text-anchor="start" font-weight="normal" textLength="33" lengthAdjust="spacingAndGlyphs" >316,00</text>
<text x="1017" y="438.5" font-size="14" fill="#000" text-anchor="start" font-weight="normal" textLength="33" lengthAdjust="spacingAndGlyphs" >316,00</text>
<rect x="54" y="478" width="5" height="1" fill="#000"/>
<rect x="1008" y="478" width="4" height="1" fill="#000"/>
<text x="15" y="482.5" font-size="14" fill="#000" text-anchor="start" font-weight="normal" textLength="33" lengthAdjust="spacingAndGlyphs" >314,00</text>
<text x="1017" y="482.5" font-size="14" fill="#000" text-anchor="start" font-weight="normal" textLength="33" lengthAdjust="spacingAndGlyphs" >314,00</text>
<rect x="54" y="522" width="5" height="1" fill="#000"/>
<rect x="1008" y="522" width="4" height="1" fill="#000"/>
<text x="15" y="526.5" font-size="14" fill="#000" text-anchor="start" font-weight="normal" textLength="33" lengthAdjust="spacingAndGlyphs" >312,00</text>
<text x="1017" y="526.5" font-size="14" fill="#000" text-anchor="start" font-weight="normal" textLength="33" lengthAdjust="spacingAndGlyphs" >312,00</text>
<rect x="56" y="413" width="3" height="1" fill="#000"/>
<rect x="1008" y="413" width="3" height="1" fill="#000"/>
<rect x="56" y="456" width="3" height="1" fill="#000"/>
<rect x="1008" y="456" width="3" height="1" fill="#000"/>
<rect x="56" y="500" width="3" height="1" fill="#000"/>
<rect x="1008" y="500" width="3" height="1" fill="#000"/>
<rect x="54" y="558" width="5" height="1" fill="#000"/>
<rect x="1008" y="558" width="4" height="1" fill="#000"/>
<text x="15" y="562.5" font-size="14" fill="#000" text-anchor="start" font-weight="normal" textLength="33" lengthAdjust="spacingAndGlyphs" >318,00</text>
<text x="1017" y="562.5" font-size="14" fill="#000" text-anchor="start" font-weight="normal" textLength="33" lengthAdjust="spacingAndGlyphs" >318,00</text>
<rect x="54" y="603" width="5" height="1" fill="#000"/>
<rect x="1008" y="603" width="4" height="1" fill="#000"/>
<text x="15" y="607.5" font-size="14" fill="#000" text-anchor="start" font-weight="normal" textLength="33" lengthAdjust="spacingAndGlyphs" >316,00</text>
<text x="1017" y="607.5" font-size="14" fill="#000" text-anchor="start" font-weight="normal" textLength="33" lengthAdjust="spacingAndGlyphs" >316,00</text>
<rect x="54" y="647" width="5" height="1" fill="#000"/>
<rect x="1008" y="647" width="4" height="1" fill="#000"/>
<text x="15" y="651.5" font-size="14" fill="#000" text-anchor="start" font-weight="normal" textLength="33" lengthAdjust="spacingAndGlyphs" >314,00</text>
<text x="1017" y="651.5" font-size="14" fill="#000" text-anchor="start" font-weight="normal" textLength="33" lengthAdjust="spacingAndGlyphs" >314,00</text>
<rect x="54" y="692" width="5" height="1" fill="#000"/>
<rect x="1008" y="692" width="4" height="1" fill="#000"/>
<text x="15" y="696.5" font-size="14" fill="#000" text-anchor="start" font-weight="normal" textLength="33" lengthAdjust="spacingAndGlyphs" >312,00</text>
<text x="1017" y="696.5" font-size="14" fill="#000" text-anchor="start" font-weight="normal" textLength="33" lengthAdjust="spacingAndGlyphs" >312,00</text>
<rect x="56" y="580" width="3" height="1" fill="#000"/>
<rect x="1008" y="580" width="3" height="1" fill="#000"/>
<rect x="56" y="625" width="3" height="1" fill="#000"/>
<rect x="1008" y="625" width="3" height="1" fill="#000"/>
<rect x="56" y="669" width="3" height="1" fill="#000"/>
<rect x="1008" y="669" width="3" height="1" fill="#000"/>
<rect x="128" y="715" width="1" height="4" fill="#000"/>
<text x="128.5" y="731.5" font-size="14" fill="#000" text-anchor="middle" font-weight="normal" textLength="27" lengthAdjust="spacingAndGlyphs" >12:00</text>
<rect x="201" y="715" width="1" height="4" fill="#000"/>
<text x="201.5" y="731.5" font-size="14" fill="#000" text-anchor="middle" font-weight="normal" textLength="27" lengthAdjust="spacingAndGlyphs" >12:30</text>
<rect x="275" y="715" width="1" height="4" fill="#000"/>
<text x="275.5" y="731.5" font-size="14" fill="#000" text-anchor="middle" font-weight="normal" textLength="27" lengthAdjust="spacingAndGlyphs" >13:00</text>
<rect x="348" y="715" width="1" height="4" fill="#000"/>
<text x="348.5" y="731.5" font-size="14" fill="#000" text-anchor="middle" font-weight="normal" textLength="27" lengthAdjust="spacingAndGlyphs" >13:30</text>
<rect x="422" y="715" width="1" height="4" fill="#000"/>
<text x="422.5" y="731.5" font-size="14" fill="#000" text-anchor="middle" font-weight="normal" textLength="27" lengthAdjust="spacingAndGlyphs" >14:00</text>
<rect x="495" y="715" width="1" height="4" fill="#000"/>
<text x="495.5" y="731.5" font-size="14" fill="#000" text-anchor="middle" font-weight="normal" textLength="27" lengthAdjust="spacingAndGlyphs" >14:30</text>
<rect x="568" y="715" width="1" height="4" fill="#000"/>
<text x="568.5" y="731.5" font-size="14" fill="#000" text-anchor="middle" font-weight="normal" textLength="27" lengthAdjust="spacingAndGlyphs" >15:00</text>
<rect x="642" y="715" width="1" height="4" fill="#000"/>
<text x="642.5" y="731.5" font-size="14" fill="#000" text-anchor="middle" font-weight="normal" textLength="27" lengthAdjust="spacingAndGlyphs" >15:30</text>
<rect x="703" y="715" width="1" height="4" fill="#000"/>
<text x="703.5" y="731.5" font-size="14" fill="#000" text-anchor="middle" font-weight="bold" textLength="27" lengthAdjust="spacingAndGlyphs" >06/21</text>
<rect x="776" y="715" width="1" height="4" fill="#000"/>
<text x="776.5" y="731.5" font-size="14" fill="#000" text-anchor="middle" font-weight="normal" textLength="27" lengthAdjust="spacingAndGlyphs" >09:35</text>
<rect x="850" y="715" width="1" height="4" fill="#000"/>
<text x="850.5" y="731.5" font-size="14" fill="#000" text-anchor="middle" font-weight="normal" textLength="27" lengthAdjust="spacingAndGlyphs" >10:05</text>
<rect x="923" y="715" width="1" height="4" fill="#000"/>
<text x="923.5" y="731.5" font-size="14" fill="#000" text-anchor="middle" font-weight="normal" textLength="27" lengthAdjust="spacingAndGlyphs" >10:35</text>
<rect x="997" y="715" width="1" height="4" fill="#000"/>
<text x="1031" y="731.5" font-size="14" fill="#000" text-anchor="start" font-weight="normal" textLength="27" lengthAdjust="spacingAndGlyphs" >11:05</text>
<text x="61" y="54" font-size="14" fill="#000" text-anchor="start" font-weight="normal" textLength="294" lengthAdjust="spacingAndGlyphs" >KP200 선물연결 &#160;단순이동평균3 &#160;(5,20,60) 06/20 15:50</text>
<text x="359" y="54" font-size="14" fill="#b02020" text-anchor="start" font-weight="normal" textLength="33" lengthAdjust="spacingAndGlyphs" >314,28</text>
<text x="397" y="54" font-size="14" fill="#101090" text-anchor="start" font-weight="normal" textLength="33" lengthAdjust="spacingAndGlyphs" >313,12</text>
<text x="435" y="54" font-size="14" fill="#207020" text-anchor="start" font-weight="normal" textLength="33" lengthAdjust="spacingAndGlyphs" >313,38</text>
<rect x="61.5" y="379.5" width="9" height="11" fill="#fff" stroke="#808080"/>
<path d="M63,383 L70,383 L66.5,387 Z" fill="#606060" shape-rendering="auto"/>
<text x="72" y="389" font-size="14" fill="#000" text-anchor="start" font-weight="normal" textLength="225" lengthAdjust="spacingAndGlyphs" >KP200 선물연결 (20분Data2 ) 06/20 15:50</text>
<rect x="61.5" y="547.5" width="9" height="11" fill="#fff" stroke="#808080"/>
<path d="M63,551 L70,551 L66.5,555 Z" fill="#606060" shape-rendering="auto"/>
<text x="72" y="557" font-size="14" fill="#000" text-anchor="start" font-weight="normal" textLength="225" lengthAdjust="spacingAndGlyphs" >KP200 선물연결 (30분Data3 ) 06/20 15:50</text>
<text x="893" y="65.5" font-size="14" fill="#b02020" text-anchor="start" font-weight="normal" textLength="53" lengthAdjust="spacingAndGlyphs" >H: -0,32%</text>
<text x="957" y="65.5" font-size="14" fill="#101090" text-anchor="start" font-weight="normal" textLength="46" lengthAdjust="spacingAndGlyphs" >L: 1,38%</text>
<rect x="986.5" y="43.5" width="8" height="8" fill="#fff" stroke="#8a8a8a"/><path d="M988.7,50 L988.7,45.3 L990.5,45.3 L992.5,50 L993.3,50 L993.3,45.3" stroke="#000" stroke-width="1.2" fill="none" shape-rendering="auto"/>
<rect x="996.5" y="43.5" width="8" height="8" fill="#fff" stroke="#8a8a8a"/><rect x="998.7" y="45.7" width="3.8" height="3.6" fill="none" stroke="#000" stroke-width="1.5" shape-rendering="auto"/>
<text x="893" y="400.5" font-size="14" fill="#b02020" text-anchor="start" font-weight="normal" textLength="53" lengthAdjust="spacingAndGlyphs" >H: -0,47%</text>
<text x="957" y="400.5" font-size="14" fill="#101090" text-anchor="start" font-weight="normal" textLength="46" lengthAdjust="spacingAndGlyphs" >L: 1,22%</text>
<rect x="986.5" y="378.5" width="8" height="8" fill="#fff" stroke="#8a8a8a"/><rect x="988" y="382" width="5" height="1" fill="#000"/>
<rect x="996.5" y="378.5" width="8" height="8" fill="#fff" stroke="#8a8a8a"/><path d="M998.3,380.3 L1002.7,384.7 M1002.7,380.3 L998.3,384.7" stroke="#000" stroke-width="1.1" shape-rendering="auto"/>
<text x="893" y="568" font-size="14" fill="#b02020" text-anchor="start" font-weight="normal" textLength="53" lengthAdjust="spacingAndGlyphs" >H: -0,47%</text>
<text x="957" y="568" font-size="14" fill="#101090" text-anchor="start" font-weight="normal" textLength="46" lengthAdjust="spacingAndGlyphs" >L: 1,22%</text>
<rect x="986.5" y="546.5" width="8" height="8" fill="#fff" stroke="#8a8a8a"/><rect x="988" y="550" width="5" height="1" fill="#000"/>
<rect x="996.5" y="546.5" width="8" height="8" fill="#fff" stroke="#8a8a8a"/><path d="M998.3,548.3 L1002.7,552.7 M1002.7,548.3 L998.3,552.7" stroke="#000" stroke-width="1.1" shape-rendering="auto"/>
<clipPath id="pb1"><rect x="1014" y="84" width="34" height="12"/></clipPath><clipPath id="pb2"><rect x="1014" y="408" width="34" height="12"/></clipPath><clipPath id="pb3"><rect x="1014" y="576" width="34" height="12"/></clipPath>
<rect x="1013" y="96" width="38" height="14" fill="#fff"/>
<rect x="1014" y="84" width="34" height="12" fill="#d01010"/>
<g clip-path="url(#pb1)"><text x="1015" y="94.5" font-size="14" fill="#fff" text-anchor="start" font-weight="normal" textLength="38" lengthAdjust="spacingAndGlyphs" >316,70</text></g>
<path d="M1014,103 L1022,103 L1018,99 Z" fill="#c01818"/>
<text x="1025" y="106.5" font-size="14" fill="#a02020" text-anchor="start" font-weight="normal" textLength="23" lengthAdjust="spacingAndGlyphs" >2,85</text>
<rect x="1013" y="420" width="38" height="14" fill="#fff"/>
<rect x="1014" y="408" width="34" height="12" fill="#d01010"/>
<g clip-path="url(#pb2)"><text x="1015" y="418.5" font-size="14" fill="#fff" text-anchor="start" font-weight="normal" textLength="38" lengthAdjust="spacingAndGlyphs" >316,70</text></g>
<path d="M1014,427 L1022,427 L1018,423 Z" fill="#c01818"/>
<text x="1025" y="430.5" font-size="14" fill="#a02020" text-anchor="start" font-weight="normal" textLength="23" lengthAdjust="spacingAndGlyphs" >2,85</text>
<rect x="1013" y="588" width="38" height="14" fill="#fff"/>
<rect x="1014" y="576" width="34" height="12" fill="#d01010"/>
<g clip-path="url(#pb3)"><text x="1015" y="586.5" font-size="14" fill="#fff" text-anchor="start" font-weight="normal" textLength="38" lengthAdjust="spacingAndGlyphs" >316,70</text></g>
<path d="M1014,595 L1022,595 L1018,591 Z" fill="#c01818"/>
<text x="1025" y="598.5" font-size="14" fill="#a02020" text-anchor="start" font-weight="normal" textLength="23" lengthAdjust="spacingAndGlyphs" >2,85</text>
<text x="568" y="76.5" font-size="14" fill="#9a1a1a" text-anchor="start" font-weight="normal" textLength="108" lengthAdjust="spacingAndGlyphs" >317,05 (06/21 09:05)</text>
<path d="M689,74.5 L703,74.5 M696,71.5 L703,74.5" stroke="#9a1a1a" fill="none"/>
<text x="516" y="366" font-size="14" fill="#101080" text-anchor="start" font-weight="normal" textLength="109" lengthAdjust="spacingAndGlyphs" >311,75 (06/20 14:30)</text>
<path d="M495,363.5 L510,363.5 M495,363.5 L500,366.5" stroke="#101080" fill="none"/>
<text x="604" y="413" font-size="14" fill="#9a1a1a" text-anchor="start" font-weight="normal" textLength="110" lengthAdjust="spacingAndGlyphs" >317,05 (06/21 09:20)</text>
<path d="M726,409.5 L741,409.5 M734,406.5 L741,409.5" stroke="#9a1a1a" fill="none"/>
<text x="384" y="534" font-size="14" fill="#101080" text-anchor="start" font-weight="normal" textLength="108" lengthAdjust="spacingAndGlyphs" >311,75 (06/20 14:40)</text>
<path d="M505,532.5 L520,532.5 M520,532.5 L514,535" stroke="#101080" fill="none"/>
<text x="629" y="580" font-size="14" fill="#9a1a1a" text-anchor="start" font-weight="normal" textLength="109" lengthAdjust="spacingAndGlyphs" >317,05 (06/21 09:30)</text>
<path d="M750,577.5 L765,577.5 M760,575 L765,577.5" stroke="#9a1a1a" fill="none"/>
<text x="516" y="704.5" font-size="14" fill="#101080" text-anchor="start" font-weight="normal" textLength="109" lengthAdjust="spacingAndGlyphs" >311,75 (06/20 14:30)</text>
<path d="M496,700.5 L509,700.5 M496,700.5 L501,703" stroke="#101080" fill="none"/>
<rect x="989.5" y="720.5" width="14" height="14" fill="#eeeeee" stroke="#555"/>
<g shape-rendering="auto"><path d="M992.5,731 L992.5,728.5 L999,722.5 L1001.3,724.8 L995,731 Z M994.5,727 L997,729.3" fill="#fff" stroke="#222" stroke-width="0.9"/><path d="M995,731.2 L1001,731.2" stroke="#222" stroke-width="1"/></g>
<rect x="1007.5" y="720.5" width="14" height="14" fill="#eeeeee" stroke="#555"/>
<g shape-rendering="auto"><circle cx="1013.4" cy="725.5" r="2.7" fill="#fff" stroke="#111" stroke-width="1.7"/><path d="M1015.6,727.7 L1019,731" stroke="#111" stroke-width="1.9"/></g>
<rect x="0" y="736" width="1066" height="18" fill="#c0c0c0"/>
<rect x="1" y="736" width="35" height="18" fill="#a8a8a8"/>
<rect x="4" y="742" width="28" height="2" fill="#d8d8d8"/><rect x="4" y="744" width="28" height="1" fill="#888"/><rect x="4" y="747" width="28" height="2" fill="#d8d8d8"/><rect x="4" y="749" width="28" height="1" fill="#888"/>
<rect x="36" y="736" width="1" height="18" fill="#e0e0e0"/><rect x="37" y="736" width="16" height="18" fill="#b0b0b0"/><rect x="52" y="736" width="1" height="18" fill="#8c8c8c"/>
<path d="M41,745.5 L45,742 L45,749 Z" fill="#000"/>
<path d="M497,754 L497,736 L504,736 L504,737 L517,737 L517,736 L524,736 L524,737 L538,737 L538,738 L541,738 L541,740 L545,740 L545,741 L556,741 L556,741.5 L566,741.5 L566,743.5 L568,743.5 L568,748.5 L573,748.5 L573,750 L580,750 L580,749 L586,749 L586,746 L590,746 L590,745 L593,745 L593,746.5 L600,746.5 L600,747.5 L612,747.5 L612,747 L624,747 L624,745 L629,745 L629,744 L640,744 L640,744.5 L650,744.5 L650,745 L659,745 L659,747 L663,747 L663,749 L674,749 L674,750 L680,750 L680,752 L682,752 L682,754 L687,754 L687,752.5 L691,752.5 L691,754 L695,754 L695,754 Z" fill="#555555"/>
<rect x="695" y="736" width="86" height="18" fill="#6a6a6a"/><rect x="695" y="736" width="86" height="1" fill="#444"/>
<path d="M697,754 L697,752 L707,752 L707,751.5 L718,751.5 L718,754 L742,754 L742,751.5 L752,751.5 L752,750.5 L777,750.5 L777,754 L778,754 L778,754 Z" fill="#4a4a4a"/>
<path d="M781,754 L781,750 L799,750 L799,748 L819,748 L819,747 L829,747 L829,749 L844,749 L844,754 Z" fill="#555555"/>
<rect x="694" y="737" width="1" height="17" fill="#fff"/><rect x="695" y="737" width="2" height="17" fill="#000"/>
<rect x="778" y="737" width="2" height="17" fill="#000"/><rect x="780" y="737" width="1" height="17" fill="#fff"/>
<rect x="852" y="736" width="17" height="18" fill="#acacac"/><rect x="851" y="736" width="1" height="18" fill="#e4e4e4"/><rect x="868" y="736" width="1" height="18" fill="#8a8a8a"/>
<rect x="869" y="736" width="17" height="18" fill="#acacac"/><rect x="868" y="736" width="1" height="18" fill="#e4e4e4"/><rect x="885" y="736" width="1" height="18" fill="#8a8a8a"/>
<rect x="886" y="736" width="17" height="18" fill="#acacac"/><rect x="885" y="736" width="1" height="18" fill="#e4e4e4"/><rect x="902" y="736" width="1" height="18" fill="#8a8a8a"/>
<path d="M857,742 L861.5,745.5 L857,749 Z" fill="#000" shape-rendering="auto"/>
<path d="M871,745.5 L875,742 L875,749 Z M875,745.5 L879,742 L879,749 Z" fill="#000" shape-rendering="auto"/>
<path d="M891,742 L895,745.5 L891,749 Z M895,742 L899,745.5 L895,749 Z" fill="#000" shape-rendering="auto"/>
<rect x="956" y="736" width="110" height="18" fill="#ababab"/>
<rect x="904" y="736" width="52" height="18" fill="#fff"/><rect x="904" y="736" width="52" height="1" fill="#808080"/><rect x="904" y="736" width="1" height="18" fill="#808080"/>
<text x="952" y="750" font-size="13" fill="#000" text-anchor="end" font-weight="normal" textLength="12" lengthAdjust="spacingAndGlyphs" >77</text>
<path d="M961,746.3 L966.5,741 L966.5,751.8 Z M967.5,741 L973,746.3 L967.5,751.8 Z" fill="#000" shape-rendering="auto"/>
<path d="M979,741 L984.5,746.3 L979,751.8 Z M990,741 L984.5,746.3 L990,751.8 Z" fill="#000" shape-rendering="auto"/>
<g shape-rendering="auto"><circle cx="1002.6" cy="746.6" r="4.8" fill="#fff" stroke="#000" stroke-width="1.4"/><path d="M999.3,746.6 L1005.9,746.6 M1002.6,743.3 L1002.6,749.9" stroke="#000" stroke-width="1.6"/></g>
<g shape-rendering="auto"><circle cx="1021.5" cy="746.6" r="4.8" fill="none" stroke="#e4e4e4" stroke-width="1.2" stroke-dasharray="2,1.2"/><path d="M1018.5,746.6 L1024.5,746.6" stroke="#e4e4e4" stroke-width="1.2"/></g>
<rect x="1034.5" y="741.5" width="10" height="10" fill="none" stroke="#e0e0e0" stroke-dasharray="2,1"/><path d="M1037,744 L1039,744 M1037,744 L1037,746 M1042,749 L1040,749 M1042,749 L1042,747" stroke="#e0e0e0"/>
<rect x="1051.7" y="741.7" width="9.6" height="9.6" fill="#fff" stroke="#000" stroke-width="1.6" shape-rendering="auto"/><path d="M1053,743 L1060,750 M1060,743 L1053,750" stroke="#000" stroke-width="1" shape-rendering="auto"/>
<rect x="1066" y="18" width="1" height="736" fill="#ffffff"/><rect x="1067" y="18" width="1" height="736" fill="#c4c4c4"/>
</svg>
</body></html>
